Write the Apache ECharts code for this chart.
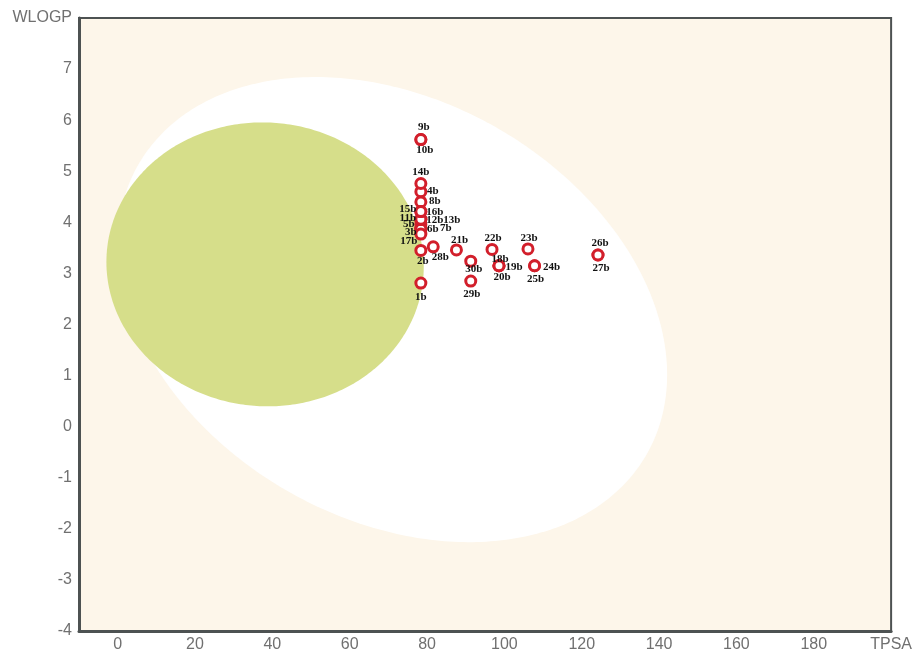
<!DOCTYPE html>
<html>
<head>
<meta charset="utf-8">
<script src="https://cdn.jsdelivr.net/npm/echarts@6/dist/echarts.min.js"></script>
<style>
  html, body { margin: 0; padding: 0; background: #ffffff; }
  #chart { width: 915px; height: 653px; }
</style>
</head>
<body>
<div id="chart"></div>
<script>
// compounds, TPSA (x) and WLOGP (y)
const names = ['1b', '2b', '3b', '4b', '5b', '6b', '7b', '8b', '9b', '10b',
  '11b', '12b', '13b', '14b', '15b', '16b', '17b', '18b', '19b', '20b',
  '21b', '22b', '23b', '24b', '25b', '26b', '27b', '28b', '29b', '30b'];
const tpsa = [78.4, 78.4, 78.4, 78.4, 78.4, 78.4, 78.4, 78.4, 78.4, 78.4,
  78.4, 78.4, 78.4, 78.4, 78.4, 78.4, 78.4, 98.6, 98.6, 98.6,
  87.6, 96.8, 106.1, 107.8, 107.8, 124.2, 124.2, 81.6, 91.3, 91.3];
const wlogp = [2.81, 3.45, 3.87, 4.60, 3.96, 3.87, 3.87, 4.40, 5.62, 5.62,
  4.06, 4.06, 4.06, 4.76, 4.21, 4.21, 3.77, 3.15, 3.15, 3.15,
  3.46, 3.47, 3.48, 3.15, 3.15, 3.36, 3.36, 3.52, 2.85, 3.24];

// egg regions: [centerX, centerY, width, height, angle in degrees]
const hiaEllipse = [71.051, 2.292, 142.081, 8.740, -1.031325];
const bbbEllipse = [38.117, 3.177, 82.061, 5.557, -0.066235];

// axis ticks
const xTicks = [0, 20, 40, 60, 80, 100, 120, 140, 160, 180];
const yTicks = [-4, -3, -2, -1, 0, 1, 2, 3, 4, 5, 6, 7];

// label offsets (px from marker centre), so the crowded column stays readable
const labelOffset = {
  '1b': [0, 14], '2b': [2, 11], '3b': [-10, 3], '4b': [12, -1], '5b': [-12, 0],
  '6b': [12, 0], '7b': [25, -1], '8b': [14, -1], '9b': [3, -12], '10b': [4, 11],
  '11b': [-13, -1], '12b': [14, 1], '13b': [31, 1], '14b': [0, -11], '15b': [-13, -2],
  '16b': [14, 1], '17b': [-12, 7], '18b': [1, -7], '19b': [15, 1], '20b': [3, 11],
  '21b': [3, -10], '22b': [1, -11], '23b': [1, -11], '24b': [17, 1], '25b': [1, 13],
  '26b': [2, -12], '27b': [3, 13], '28b': [7, 10], '29b': [1, 13], '30b': [3, 8]
};

const chart = echarts.init(document.getElementById('chart'));

function renderEllipse(params, api) {
  const cx = api.value(0), cy = api.value(1);
  const a = api.value(2) / 2, b = api.value(3) / 2;
  const th = api.value(4) * Math.PI / 180;
  const pts = [];
  for (let i = 0; i < 360; i++) {
    const t = i * Math.PI / 180;
    const x = cx + a * Math.cos(t) * Math.cos(th) - b * Math.sin(t) * Math.sin(th);
    const y = cy + a * Math.cos(t) * Math.sin(th) + b * Math.sin(t) * Math.cos(th);
    pts.push(api.coord([x, y]));
  }
  return {
    type: 'polygon',
    shape: { points: pts },
    style: { fill: api.visual('color'), stroke: null }
  };
}

const points = names.map((n, i) => ({ name: n, value: [tpsa[i], wlogp[i]] }));

const option = {
  backgroundColor: '#ffffff',
  animation: false,
  grid: {
    left: 79, right: 20, top: 18, bottom: 19,
    show: true,
    backgroundColor: '#fdf6ea',
    borderColor: '#4d5252',
    borderWidth: 2
  },
  xAxis: {
    type: 'value',
    min: -10, max: 200, interval: 10,
    axisLine: { show: true, onZero: false, lineStyle: { color: '#4d5252', width: 3 } },
    axisTick: { show: false },
    splitLine: { show: false },
    axisLabel: {
      color: '#707070',
      fontSize: 16,
      fontFamily: '"Liberation Sans Narrow", "Liberation Sans", Arial, sans-serif',
      margin: 6,
      showMinLabel: true,
      showMaxLabel: true,
      formatter: function (v) {
        if (v === 200) return 'TPSA';
        return xTicks.indexOf(v) >= 0 ? String(v) : '';
      }
    }
  },
  yAxis: {
    type: 'value',
    min: -4, max: 8, interval: 1,
    axisLine: { show: true, onZero: false, lineStyle: { color: '#4d5252', width: 3 } },
    axisTick: { show: false },
    splitLine: { show: false },
    axisLabel: {
      color: '#707070',
      fontSize: 16,
      fontFamily: '"Liberation Sans", Arial, sans-serif',
      margin: 7,
      showMaxLabel: true,
      formatter: function (v) {
        if (v === 8) return 'WLOGP';
        return yTicks.indexOf(v) >= 0 ? String(v) : '';
      }
    }
  },
  series: [
    {
      type: 'custom',
      name: 'HIA',
      renderItem: renderEllipse,
      itemStyle: { color: '#ffffff' },
      clip: true,
      silent: true,
      encode: { x: 0, y: 1 },
      data: [{ value: hiaEllipse }],
      z: 1
    },
    {
      type: 'custom',
      name: 'BBB',
      renderItem: renderEllipse,
      itemStyle: { color: '#d6de8a' },
      clip: true,
      silent: true,
      encode: { x: 0, y: 1 },
      data: [{ value: bbbEllipse }],
      z: 2
    },
    {
      type: 'scatter',
      name: 'compounds',
      symbol: 'circle',
      symbolSize: 10,
      itemStyle: { color: '#ffffff', borderColor: '#d21f2b', borderWidth: 3, opacity: 1 },
      label: {
        show: true,
        position: 'inside',
        formatter: '{b}',
        color: '#111111',
        fontSize: 11,
        fontWeight: 'bold',
        fontFamily: '"Liberation Serif", "Times New Roman", serif',
        align: 'center',
        verticalAlign: 'middle'
      },
      labelLayout: function (params) {
        const off = labelOffset[names[params.dataIndex]] || [0, -12];
        return { dx: off[0], dy: off[1], hideOverlap: false };
      },
      data: points,
      z: 5
    }
  ]
};

chart.setOption(option);
</script>
</body>
</html>
